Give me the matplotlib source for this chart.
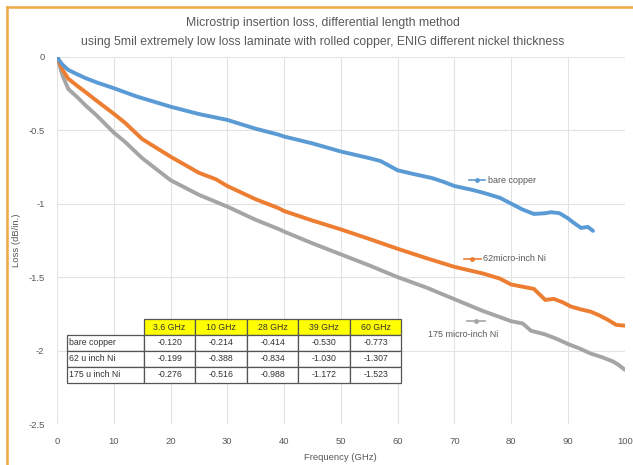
import matplotlib
matplotlib.use("Agg")
import matplotlib.pyplot as plt
from matplotlib.lines import Line2D

plt.rcParams['font.family'] = ['Liberation Sans', 'DejaVu Sans']

# ---- data ----
f_bare = [0, 0.5, 1, 2, 3.6, 5, 7, 10, 14, 20, 25, 28, 30, 35, 39, 40, 45, 50, 55, 57,
          60, 63, 66, 68, 70, 73, 75, 78, 80, 82, 84, 86, 87, 88.5, 90, 91, 92.3, 93.5, 94.4]
loss_bare = [0, -0.03, -0.055, -0.09, -0.12, -0.145, -0.175, -0.214, -0.27, -0.34, -0.39, -0.414,
             -0.43, -0.49, -0.53, -0.543, -0.59, -0.645, -0.69, -0.71, -0.773, -0.80, -0.825,
             -0.85, -0.88, -0.905, -0.925, -0.96, -1.0, -1.04, -1.07, -1.065, -1.058, -1.065,
             -1.10, -1.13, -1.165, -1.158, -1.185]

f_62 = [0, 1, 2, 3.6, 5, 7, 10, 12, 15, 20, 25, 28, 30, 35, 39, 40, 45, 50, 55, 60, 65, 70,
        75, 78, 80, 82, 84, 86, 87.5, 89, 90.5, 92.3, 94, 95.5, 97, 98.5, 100]
loss_62 = [0, -0.09, -0.15, -0.199, -0.24, -0.30, -0.388, -0.45, -0.56, -0.68, -0.79, -0.834,
           -0.88, -0.97, -1.03, -1.05, -1.115, -1.175, -1.24, -1.307, -1.37, -1.43, -1.475,
           -1.51, -1.55, -1.565, -1.58, -1.655, -1.648, -1.67, -1.70, -1.72, -1.735, -1.76,
           -1.79, -1.825, -1.83]

f_175 = [0, 1, 2, 3.6, 5, 7, 10, 12, 15, 20, 25, 28, 30, 35, 39, 40, 45, 50, 55, 60, 65, 70,
         75, 80, 82, 83.5, 86, 88, 90, 92, 94, 96, 98, 99, 100]
loss_175 = [0, -0.13, -0.22, -0.276, -0.33, -0.40, -0.516, -0.58, -0.69, -0.84, -0.94, -0.988,
            -1.02, -1.11, -1.172, -1.19, -1.27, -1.345, -1.42, -1.50, -1.57, -1.65, -1.73,
            -1.80, -1.815, -1.865, -1.89, -1.92, -1.955, -1.985, -2.02, -2.045, -2.075, -2.10, -2.13]

series_names = ["bare copper", "62micro-inch Ni", "175 micro-inch Ni"]
series_colors = ["#5B9BD5", "#ED7D31", "#A5A5A5"]

table_cols = ["3.6 GHz", "10 GHz", "28 GHz", "39 GHz", "60 GHz"]
table_rows = ["bare copper", "62 u inch Ni", "175 u inch Ni"]
table_vals = [["-0.120", "-0.214", "-0.414", "-0.530", "-0.773"],
              ["-0.199", "-0.388", "-0.834", "-1.030", "-1.307"],
              ["-0.276", "-0.516", "-0.988", "-1.172", "-1.523"]]

x_ticks = list(range(0, 101, 10))
y_ticks = [0, -0.5, -1, -1.5, -2, -2.5]
y_tick_labels = ["0", "-0.5", "-1", "-1.5", "-2", "-2.5"]

txt = "#595959"

fig = plt.figure(figsize=(6.33, 4.65), dpi=100)
ax = fig.add_axes([0.090, 0.088, 0.897, 0.790])

ax.plot(f_175, loss_175, color=series_colors[2], lw=2.8, solid_capstyle='round', zorder=3)
ax.plot(f_62, loss_62, color=series_colors[1], lw=2.8, solid_capstyle='round', zorder=4)
ax.plot(f_bare, loss_bare, color=series_colors[0], lw=2.8, solid_capstyle='round', zorder=5)

ax.set_xlim(0, 100)
ax.set_ylim(-2.5, 0)
ax.set_xticks(x_ticks)
ax.set_yticks(y_ticks)
ax.set_yticklabels(y_tick_labels)
ax.grid(True, color="#E3E3E3", lw=0.8, zorder=0)
ax.set_axisbelow(True)
for s in ax.spines.values():
    s.set_visible(False)
ax.tick_params(length=0, labelsize=6.8, colors=txt, pad=9)
ax.set_xlabel("Frequency (GHz)", fontsize=6.8, color=txt, labelpad=5)
ax.set_ylabel("Loss (dB/in.)", fontsize=6.8, color=txt, labelpad=5)

fig.text(0.51, 0.950, "Microstrip insertion loss, differential length method",
         ha='center', va='center', fontsize=8.8, color=txt)
fig.text(0.51, 0.910, "using 5mil extremely low loss laminate with rolled copper, ENIG different nickel thickness",
         ha='center', va='center', fontsize=8.8, color=txt)

# inline legend labels
def lab(x0, x1, y, color, tx, ty, text, ha='left'):
    ax.plot([x0, x1], [y, y], color=color, lw=1.2, zorder=6)
    ax.plot([(x0 + x1) / 2], [y], marker='o', ms=2.5, color=color, zorder=6)
    ax.text(tx, ty, text, fontsize=6.5, color=txt, ha=ha, va='center', zorder=6)

lab(72.6, 75.4, -0.842, series_colors[0], 76.0, -0.842, series_names[0])
lab(71.6, 74.7, -1.376, series_colors[1], 75.0, -1.376, series_names[1])
lab(72.3, 75.3, -1.80, series_colors[2], 71.6, -1.89, series_names[2], ha='center')

# data table
cell_text = [[""] + table_cols] + [[r] + v for r, v in zip(table_rows, table_vals)]
tb = ax.table(cellText=cell_text, bbox=[0.0176, 0.112, 0.589, 0.174],
              colWidths=[77] + [51.6] * 5, cellLoc='center', zorder=7)
tb.auto_set_font_size(False)
tb.set_fontsize(6.3)
for (r, c), cell in tb.get_celld().items():
    cell.set_edgecolor("#555555")
    cell.set_linewidth(0.9)
    cell.get_text().set_color("#333333")
    if c == 0:
        cell.get_text().set_ha('left')
        cell.PAD = 0.03
    if r == 0:
        if c == 0:
            cell.set_edgecolor("none")
            cell.set_facecolor("none")
        else:
            cell.set_facecolor("#FFFF00")

# orange frame
fig.add_artist(Line2D([6.5 / 633, 6.5 / 633], [0, 1 - 7 / 465], transform=fig.transFigure,
                      color="#EEA845", lw=1.8))
fig.add_artist(Line2D([6.5 / 633, 1], [1 - 7 / 465, 1 - 7 / 465], transform=fig.transFigure,
                      color="#EEA845", lw=1.8))

fig.savefig("out.png", dpi=100)
